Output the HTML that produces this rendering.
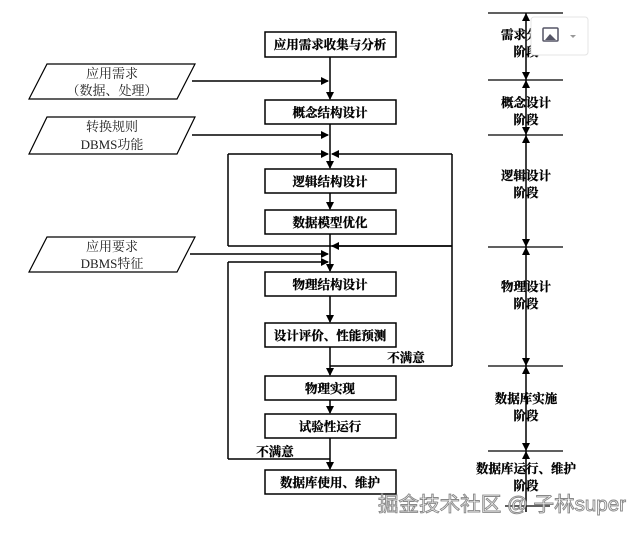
<!DOCTYPE html>
<html><head><meta charset="utf-8"><style>
body{margin:0;background:#fff;}
svg text{font-family:"Liberation Serif","Noto Serif CJK SC","Noto Sans CJK SC",serif;}
.b{font-family:"Liberation Sans","Noto Sans CJK SC",sans-serif;font-weight:bold;font-size:12.5px;stroke:#000;stroke-width:0.3;}
.p{font-size:13px;fill:#222;}
</style></head><body>
<svg width="643" height="531" viewBox="0 0 643 531" xmlns="http://www.w3.org/2000/svg">
<defs>
<marker id="a" markerWidth="8" markerHeight="8" refX="7" refY="4" orient="auto" markerUnits="userSpaceOnUse"><path d="M0,0 L8,4 L0,8z" fill="#000"/></marker>
</defs>
<g fill="none" stroke="#000" stroke-width="1.5">
<rect x="265" y="32" width="131" height="25"/>
<rect x="265" y="100" width="131" height="24"/>
<rect x="265" y="169" width="131" height="24"/>
<rect x="265" y="210" width="131" height="24"/>
<rect x="265" y="272" width="131" height="24"/>
<rect x="265" y="323" width="131" height="24"/>
<rect x="265" y="376" width="131" height="24"/>
<rect x="265" y="414" width="131" height="24"/>
<rect x="265" y="470" width="131" height="24"/>
<path d="M47,64 L195,64 L177,99 L29,99z" stroke-width="1.2"/>
<path d="M47,117 L195,117 L177,154 L29,154z" stroke-width="1.2"/>
<path d="M47,237 L195,237 L177,272 L29,272z" stroke-width="1.2"/>
<line x1="330" y1="57" x2="330" y2="99" marker-end="url(#a)"/>
<line x1="330" y1="124" x2="330" y2="168" marker-end="url(#a)"/>
<line x1="330" y1="193" x2="330" y2="209" marker-end="url(#a)"/>
<line x1="330" y1="234" x2="330" y2="271" marker-end="url(#a)"/>
<line x1="330" y1="296" x2="330" y2="322" marker-end="url(#a)"/>
<line x1="330" y1="347" x2="330" y2="375" marker-end="url(#a)"/>
<line x1="330" y1="400" x2="330" y2="413" marker-end="url(#a)"/>
<line x1="330" y1="438" x2="330" y2="469" marker-end="url(#a)"/>
<line x1="192" y1="81" x2="328" y2="81" marker-end="url(#a)"/>
<line x1="192" y1="135" x2="328" y2="135" marker-end="url(#a)"/>
<line x1="190" y1="254" x2="328" y2="254" marker-end="url(#a)"/>
<line x1="228" y1="154" x2="328" y2="154" marker-end="url(#a)"/>
<line x1="452" y1="154" x2="332" y2="154" marker-end="url(#a)"/>
<line x1="228" y1="154" x2="228" y2="246"/>
<line x1="228" y1="246" x2="452" y2="246"/>
<line x1="452" y1="246" x2="332" y2="246" marker-end="url(#a)"/>
<line x1="452" y1="154" x2="452" y2="366"/>
<line x1="452" y1="366" x2="330" y2="366"/>
<line x1="228" y1="262" x2="328" y2="262" marker-end="url(#a)"/>
<line x1="228" y1="262" x2="228" y2="459"/>
<line x1="228" y1="459" x2="330" y2="459"/>
<line x1="526" y1="13" x2="526" y2="512"/>
<g stroke-width="1.2">
<line x1="488" y1="13" x2="563" y2="13"/>
<line x1="488" y1="80" x2="563" y2="80"/>
<line x1="488" y1="135" x2="563" y2="135"/>
<line x1="488" y1="247" x2="563" y2="247"/>
<line x1="488" y1="366" x2="563" y2="366"/>
<line x1="488" y1="451" x2="563" y2="451"/>
<line x1="505" y1="506" x2="550" y2="506"/>
</g>
</g>
<g fill="#000">
<path d="M522,21 L530,21 L526,13z"/>
<path d="M522,72 L530,72 L526,80z"/><path d="M522,88 L530,88 L526,80z"/>
<path d="M522,127 L530,127 L526,135z"/><path d="M522,143 L530,143 L526,135z"/>
<path d="M522,239 L530,239 L526,247z"/><path d="M522,255 L530,255 L526,247z"/>
<path d="M522,358 L530,358 L526,366z"/><path d="M522,374 L530,374 L526,366z"/>
<path d="M522,443 L530,443 L526,451z"/><path d="M522,459 L530,459 L526,451z"/>
</g>
<g class="b" text-anchor="middle">
<text x="330" y="49">应用需求收集与分析</text>
<text x="330" y="117">概念结构设计</text>
<text x="330" y="186">逻辑结构设计</text>
<text x="330" y="227">数据模型优化</text>
<text x="330" y="289">物理结构设计</text>
<text x="330" y="340">设计评价、性能预测</text>
<text x="330" y="393">物理实现</text>
<text x="330" y="431">试验性运行</text>
<text x="330" y="487">数据库使用、维护</text>
<text x="406" y="362">不满意</text>
<text x="275" y="456">不满意</text>
<text x="526" y="39">需求分析</text><text x="526" y="56">阶段</text>
<text x="526" y="107">概念设计</text><text x="526" y="124">阶段</text>
<text x="526" y="180">逻辑设计</text><text x="526" y="197">阶段</text>
<text x="526" y="291">物理设计</text><text x="526" y="308">阶段</text>
<text x="526" y="403">数据库实施</text><text x="526" y="420">阶段</text>
<text x="526" y="473">数据库运行、维护</text><text x="526" y="490">阶段</text>
</g>
<g class="p" text-anchor="middle">
<text x="112" y="78">应用需求</text><text x="112" y="95">（数据、处理）</text>
<text x="112" y="131">转换规则</text><text x="112" y="149">DBMS功能</text>
<text x="112" y="251">应用要求</text><text x="112" y="268">DBMS特征</text>
</g>
<rect x="531" y="17" width="57" height="38" rx="3" fill="#fff" stroke="#e4e4e4"/>
<rect x="543" y="28" width="15" height="13" rx="1" fill="#fff" stroke="#556" stroke-width="1.5"/>
<path d="M545,40 L550,34 L556,40z" fill="#556"/>
<path d="M570,35 L576,35 L573,38z" fill="#999"/>
<text x="378" y="511" style="font-family:'Liberation Sans','Noto Sans CJK SC',sans-serif;font-size:20px;fill:#fff;stroke:#888;stroke-width:0.9" textLength="248" lengthAdjust="spacingAndGlyphs">掘金技术社区 @ 子林super</text>
</svg>
</body></html>
